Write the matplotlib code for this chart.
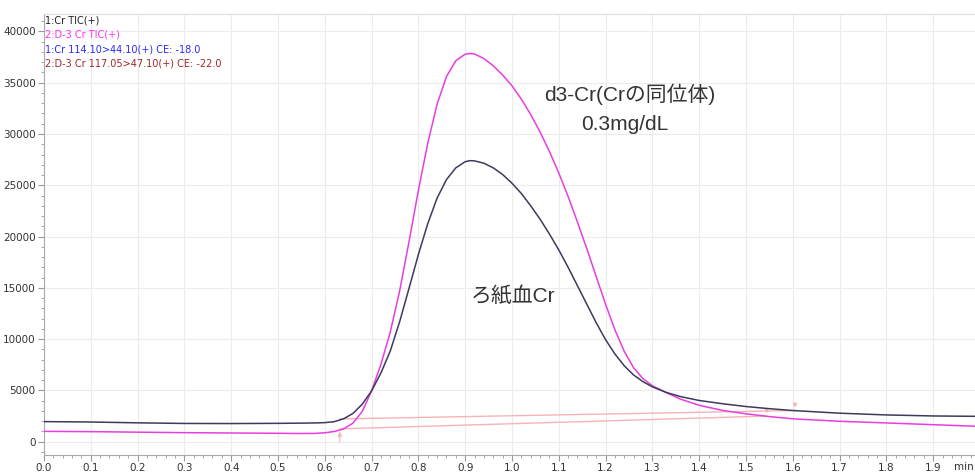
import matplotlib
matplotlib.use("Agg")
import matplotlib.pyplot as plt
from matplotlib.ticker import MultipleLocator

# retention time (min)
t = [0.00, 0.10, 0.20, 0.30, 0.40, 0.50, 0.55, 0.58, 0.60, 0.62, 0.64, 0.66,
     0.68, 0.70, 0.72, 0.74, 0.76, 0.78, 0.80, 0.82, 0.84, 0.86, 0.88, 0.90,
     0.91, 0.92, 0.94, 0.96, 0.98, 1.00, 1.02, 1.04, 1.06, 1.08, 1.10, 1.12,
     1.14, 1.16, 1.18, 1.20, 1.22, 1.24, 1.26, 1.28, 1.30, 1.33, 1.36, 1.40,
     1.45, 1.50, 1.55, 1.60, 1.70, 1.80, 1.90, 2.00]

# 1:Cr TIC(+)  (filter paper blood Cr)
cr = [1960, 1920, 1840, 1780, 1770, 1790, 1810, 1830, 1860, 1950, 2230, 2750,
      3650, 4950, 6700, 8850, 11700, 14950, 18250, 21250, 23750, 25550, 26700, 27300,
      27400, 27380, 27150, 26700, 26050, 25200, 24200, 23000, 21700, 20250, 18700, 17000,
      15200, 13400, 11600, 9950, 8550, 7400, 6500, 5850, 5350, 4800, 4400, 4020,
      3700, 3430, 3220, 3040, 2780, 2610, 2510, 2470]

# 2:D-3 Cr TIC(+)  (d3-Cr internal standard)
d3cr = [1010, 980, 930, 880, 850, 820, 800, 810, 870, 990, 1240, 1800,
        2950, 4950, 7550, 10700, 14700, 19500, 24500, 29100, 32900, 35600, 37150, 37780,
        37850, 37800, 37350, 36650, 35750, 34700, 33400, 31900, 30200, 28300, 26200, 23900,
        21400, 18800, 16100, 13400, 10900, 8800, 7200, 6150, 5450, 4780, 4150, 3550,
        3050, 2720, 2450, 2230, 1990, 1830, 1660, 1490]

# integration baselines (start, end)
cr_base_t = [0.632, 1.605]
cr_base_y = [2220, 3040]
d3_base_t = [0.632, 1.544]
d3_base_y = [1250, 2500]

legend_lines = ["1:Cr TIC(+)", "2:D-3 Cr TIC(+)",
                "1:Cr 114.10>44.10(+) CE: -18.0",
                "2:D-3 Cr 117.05>47.10(+) CE: -22.0"]
legend_colors = ["#222222", "#ff33ee", "#2a2aff", "#a02828"]

jp = ["Liberation Sans", "Noto Sans CJK JP"]
small = ["Liberation Sans Narrow", "DejaVu Sans"]

fig = plt.figure(figsize=(9.75, 4.74), dpi=100)
ax = fig.add_axes([0.0451, 0.040, 0.96, 0.9305])

base_col = "#f6b4b4"
ax.plot(cr_base_t, cr_base_y, color=base_col, lw=1.0, zorder=2)
ax.plot(d3_base_t, d3_base_y, color=base_col, lw=1.0, zorder=2)
arrow = dict(arrowstyle="-|>", color=base_col, lw=0.8, mutation_scale=6)
ax.annotate("", xy=(d3_base_t[0], d3_base_y[0]), xytext=(d3_base_t[0], -300), arrowprops=arrow)
ax.annotate("", xy=(d3_base_t[1], d3_base_y[1]), xytext=(d3_base_t[1], 3300), arrowprops=arrow)
ax.annotate("", xy=(cr_base_t[1], cr_base_y[1]), xytext=(cr_base_t[1], 3900), arrowprops=arrow)

ax.plot(t, cr, color="#3b3b5e", lw=1.1, zorder=4, solid_joinstyle="round")
ax.plot(t, d3cr, color="#e83ee0", lw=1.1, zorder=3, solid_joinstyle="round")

ax.set_xlim(0, 2.0)
ax.set_ylim(-1300, 41700)
ax.xaxis.set_major_locator(MultipleLocator(0.1))
ax.xaxis.set_minor_locator(MultipleLocator(0.02))
ax.yaxis.set_major_locator(MultipleLocator(5000))
ax.yaxis.set_minor_locator(MultipleLocator(1000))
ax.set_xticks([0.1 * i for i in range(20)])
ax.set_xticklabels(["%.1f" % (0.1 * i) for i in range(20)])
ax.grid(True, which="major", color="#ececec", lw=0.8, zorder=0)
ax.set_axisbelow(True)
ax.tick_params(which="both", direction="out", colors="#999999", labelcolor="#333333",
               labelsize=7.5, pad=2)
ax.tick_params(which="major", length=4)
ax.tick_params(which="minor", length=2.5)
for side in ["top", "right"]:
    ax.spines[side].set_color("#dddddd")
for side in ["left", "bottom"]:
    ax.spines[side].set_color("#aaaaaa")
for lab in ax.get_xticklabels() + ax.get_yticklabels():
    lab.set_family(small)

ax.text(1.965, -2500, "min", fontsize=7.5, color="#333333", ha="center", va="center",
        family=small, clip_on=False)

for i, (s, c) in enumerate(zip(legend_lines, legend_colors)):
    ax.text(0.001, 0.986 - i * 0.033, s, transform=ax.transAxes, fontsize=7, color=c,
            va="center", ha="left", family=small)

ax.text(1.252, 33900, "d3-Cr(Crの同位体)", fontsize=15, color="#333333",
        ha="center", va="center", family=jp)
ax.text(1.241, 30900, "0.3mg/dL", fontsize=15, color="#333333",
        ha="center", va="center", family=jp)
ax.text(1.003, 14200, "ろ紙血Cr", fontsize=15, color="#333333",
        ha="center", va="center", family=jp)

fig.savefig("out.png", dpi=100)
